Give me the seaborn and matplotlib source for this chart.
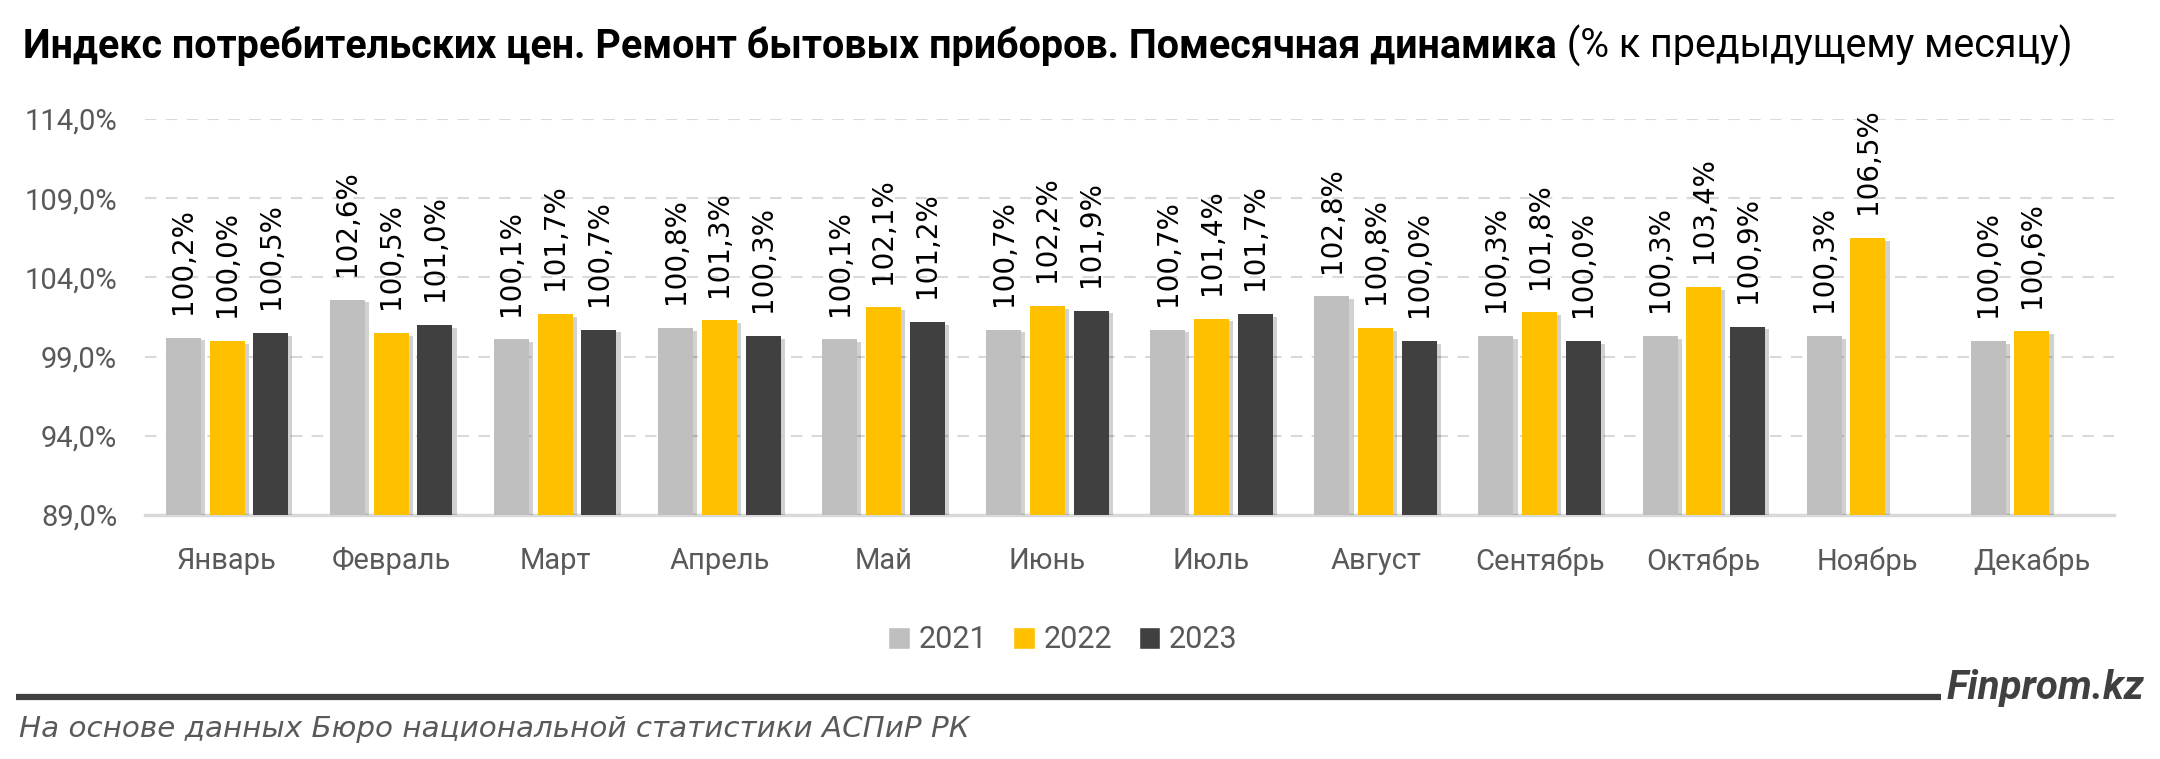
import numpy as np
import pandas as pd
import matplotlib
matplotlib.use("Agg")
import matplotlib.pyplot as plt
import matplotlib.patheffects as pe
from matplotlib.lines import Line2D
import seaborn as sns

# ---------------- data ----------------
months = ["Январь", "Февраль", "Март", "Апрель", "Май", "Июнь", "Июль",
          "Август", "Сентябрь", "Октябрь", "Ноябрь", "Декабрь"]
years = ["2021", "2022", "2023"]
v2021 = [100.2, 102.6, 100.1, 100.8, 100.1, 100.7, 100.7, 102.8, 100.3, 100.3, 100.3, 100.0]
v2022 = [100.0, 100.5, 101.7, 101.3, 102.1, 102.2, 101.4, 100.8, 101.8, 103.4, 106.5, 100.6]
v2023 = [100.5, 101.0, 100.7, 100.3, 101.2, 101.9, 101.7, 100.0, 100.0, 100.9, np.nan, np.nan]
yticks = [89, 94, 99, 104, 109, 114]
colors = ["#BFBFBF", "#FFC000", "#404040"]

title_bold = "Индекс потребительских цен. Ремонт бытовых приборов. Помесячная динамика"
title_rest = " (% к предыдущему месяцу)"
source_text = "На основе данных Бюро национальной статистики АСПиР РК"
brand_text = "Finprom.kz"

rows = []
for yr, vals in zip(years, [v2021, v2022, v2023]):
    for m, v in zip(months, vals):
        if not np.isnan(v):
            rows.append({"month": m, "year": yr, "value": v})
df = pd.DataFrame(rows)

# ---------------- style ----------------
sns.set_theme(style="white")
plt.rcParams["font.family"] = ["Roboto", "DejaVu Sans"]

W, H = 2160, 759
fig = plt.figure(figsize=(W / 100, H / 100), dpi=100)
ax = fig.add_axes([145 / W, 1 - 515 / H, (2114 - 145) / W, (515 - 119) / H])

sns.barplot(data=df, x="month", y="value", hue="year", order=months,
            hue_order=years, palette=colors, width=0.8, gap=0.2,
            saturation=1, ax=ax, zorder=3)

shadow = [pe.SimplePatchShadow(offset=(3, -2), shadow_rgbFace="#000000", alpha=0.18),
          pe.Normal()]
for cont in ax.containers:
    for bar in cont:
        bar.set_path_effects(shadow)
        bar.set_edgecolor("none")
    labels = [f"{v:.1f}%".replace(".", ",") for v in cont.datavalues]
    ax.bar_label(cont, labels=labels, rotation=90, padding=17, fontsize=20,
                 family="DejaVu Sans", color="#000000", clip_on=False)

ax.set_ylim(89, 114)
ax.set_xlim(-0.5, len(months) - 0.5)
ax.set_yticks(yticks)
ax.set_yticklabels([f"{t:.1f}%".replace(".", ",") for t in yticks])
ax.tick_params(axis="y", length=0, pad=20, labelsize=21, labelcolor="#595959")
ax.tick_params(axis="x", length=0, pad=23, labelsize=21, labelcolor="#595959")
ax.set_xlabel("")
ax.set_ylabel("")
ax.yaxis.grid(True, linestyle=(0, (5.5, 4.5)), color="#D9D9D9", lw=1.5)
ax.xaxis.grid(False)
ax.set_axisbelow(True)
for s in ["top", "left", "right"]:
    ax.spines[s].set_visible(False)
ax.spines["bottom"].set_color("#D9D9D9")
ax.spines["bottom"].set_linewidth(2.5)

handles, labels = ax.get_legend_handles_labels()
if ax.legend_ is not None:
    ax.legend_.remove()
fig.legend(handles, labels, loc="center", bbox_to_anchor=(1063 / W, 1 - 640 / H),
           ncol=3, frameon=False, handlelength=0.7, handleheight=0.7,
           handletextpad=0.3, columnspacing=0.85, fontsize=22,
           labelcolor="#595959")

# ---------------- texts ----------------
renderer = fig.canvas.get_renderer()


def fit_size(txt_objs, target_px, size0):
    """Scale font size of text objects so that their combined width matches target."""
    total = sum(t.get_window_extent(renderer=renderer).width for t in txt_objs)
    return size0 * target_px / total


ty = 1 - 58 / H
t1 = fig.text(23 / W, ty, title_bold, fontsize=28, fontweight="bold",
              color="#000000", va="baseline", ha="left")
t2 = fig.text(0.5, ty, title_rest, fontsize=28, color="#000000",
              va="baseline", ha="left")
s = fit_size([t1, t2], 2073 - 23, 28)
t1.set_fontsize(s)
t2.set_fontsize(s)
bb = t1.get_window_extent(renderer=renderer)
t2.set_x(bb.x1 / W)

fig.add_artist(Line2D([16 / W, 1941 / W], [1 - 697 / H, 1 - 697 / H],
                      lw=4.5, color="#404040", solid_capstyle="butt"))
tb = fig.text(1947 / W, 1 - 699 / H, brand_text, fontsize=27, fontweight="bold",
              fontstyle="italic", color="#404040", va="baseline", ha="left")
tb.set_fontsize(fit_size([tb], 2145 - 1947, 27))
ts = fig.text(19 / W, 1 - 729 / H, source_text, fontsize=21, fontstyle="italic",
              color="#595959", va="center", ha="left",
              family=["DejaVu Sans"])
ts.set_fontsize(fit_size([ts], 966 - 19, 21))

fig.savefig("out.png", dpi=100)
